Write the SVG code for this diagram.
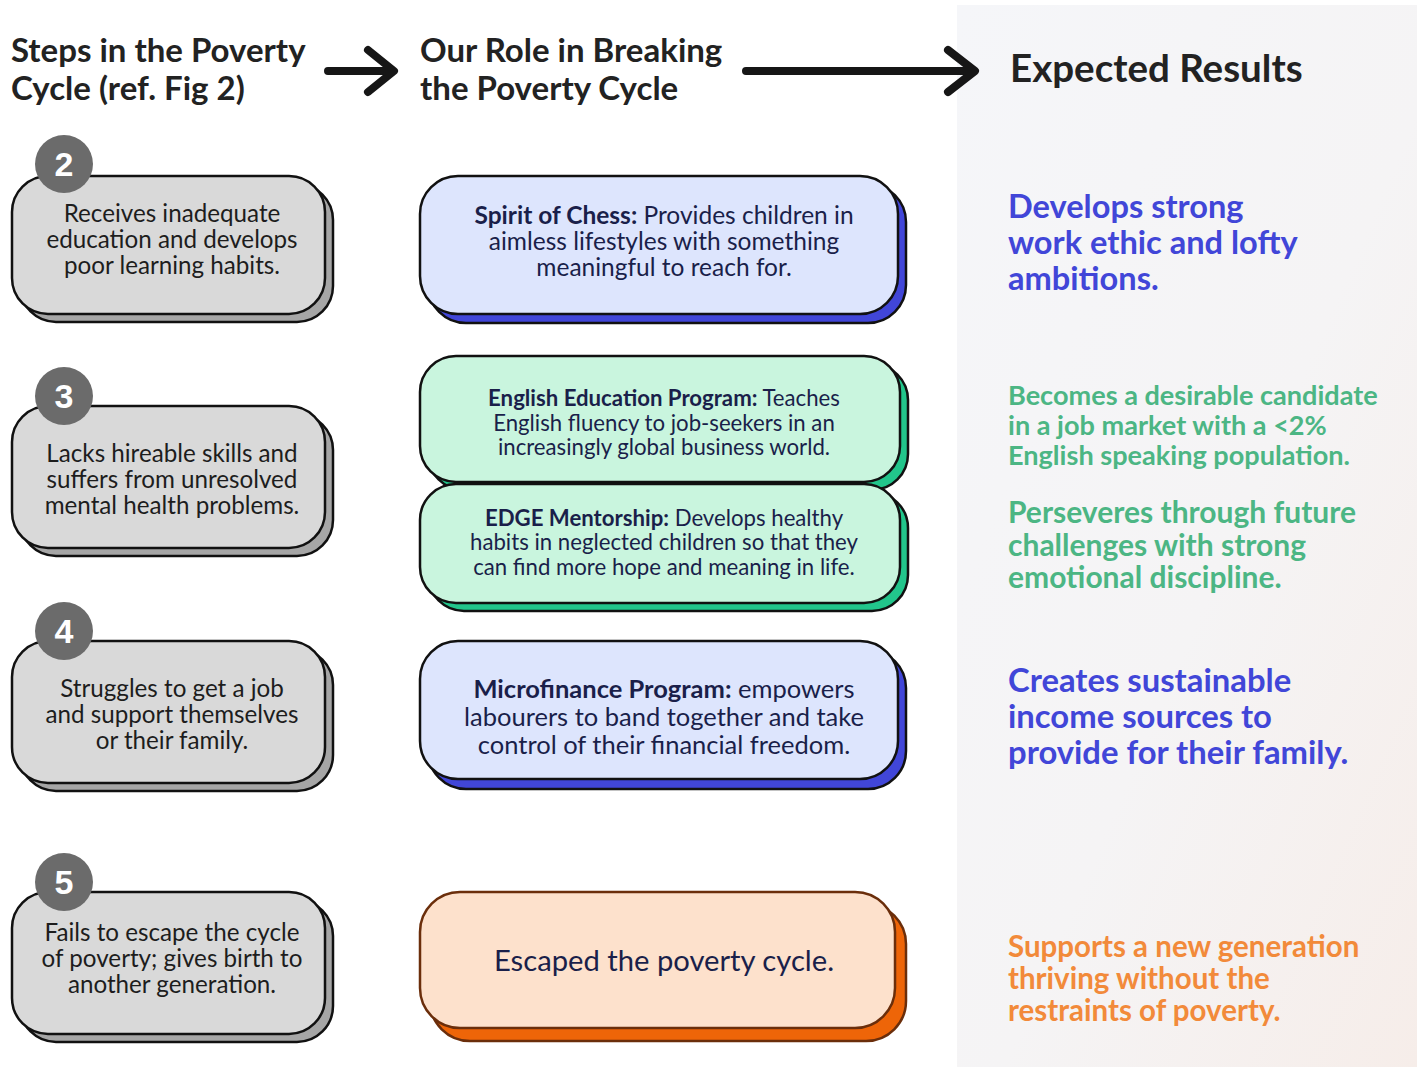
<svg xmlns="http://www.w3.org/2000/svg" width="1421" height="1067" viewBox="0 0 1421 1067">
  <defs>
    <linearGradient id="panelBg" x1="0" y1="0" x2="1" y2="1">
      <stop offset="0" stop-color="#f5f6f9"/>
      <stop offset="0.55" stop-color="#f5f4f5"/>
      <stop offset="1" stop-color="#f6ede9"/>
    </linearGradient>
    <style>
      text { font-family: Lato, "Open Sans", "Liberation Sans", sans-serif; }
      .head { font-size: 33px; font-weight: 700; fill: #222222; }
      .step-shadow { fill: #a6a6a6; stroke: #111111; stroke-width: 2.5; }
      .step-box { fill: #d9d9d9; stroke: #111111; stroke-width: 2.5; }
      .badge { fill: #6b6b6b; }
      .badge-num { font-size: 34px; font-weight: 700; fill: #ffffff; text-anchor: middle; font-family: "Liberation Sans", Arial, sans-serif; }
      .step-txt { font-size: 24.2px; fill: #1d1d1d; text-anchor: middle; }
      .role-txt { fill: #1a1f4a; text-anchor: middle; }
      .role-txt tspan.b { font-weight: 700; }
      .blue-shadow { fill: #4146d8; stroke: #111111; stroke-width: 2.5; }
      .blue-box { fill: #dde5fd; stroke: #111111; stroke-width: 2.5; }
      .green-shadow { fill: #22c58b; stroke: #111111; stroke-width: 2.5; }
      .green-box { fill: #c9f5de; stroke: #111111; stroke-width: 2.5; }
      .orange-shadow { fill: #ee6508; stroke: #6b2e0b; stroke-width: 2.5; }
      .orange-box { fill: #fde1cc; stroke: #6b2e0b; stroke-width: 2.5; }
      .res { font-weight: 700; }
      .arrow { fill: none; stroke: #161616; stroke-width: 8; stroke-linecap: round; stroke-linejoin: round; }
    </style>
  </defs>

  <!-- page -->
  <rect width="1421" height="1067" fill="#ffffff"/>
  <rect x="957" y="5" width="460" height="1062" fill="url(#panelBg)"/>

  <!-- column headings -->
  <g id="heading-steps">
    <text class="head" x="11" y="62">Steps in the Poverty</text>
    <text class="head" x="11" y="100">Cycle (ref. Fig 2)</text>
  </g>
  <g id="heading-role">
    <text class="head" x="420" y="62">Our Role in Breaking</text>
    <text class="head" x="420" y="100">the Poverty Cycle</text>
  </g>
  <g id="heading-results">
    <text class="head" x="1010" y="82" style="font-size:38.5px">Expected Results</text>
  </g>

  <!-- heading arrows -->
  <g id="connectors">
    <path class="arrow" d="M328 71 H393 M368 50 L394 71 L368 92"/>
    <path class="arrow" d="M746 71 H974 M948 50 L975 71 L948 92"/>
  </g>

  <!-- step 2 -->
  <g id="step-2">
    <rect class="step-shadow" x="20" y="184" width="313" height="138" rx="36"/>
    <rect class="step-box" x="12" y="176" width="313" height="138" rx="36"/>
    <circle class="badge" cx="64" cy="164" r="29"/>
    <text class="badge-num" x="64" y="176">2</text>
    <text class="step-txt" x="172" y="222">Receives inadequate</text>
    <text class="step-txt" x="172" y="248">education and develops</text>
    <text class="step-txt" x="172" y="274">poor learning habits.</text>
  </g>

  <!-- step 3 -->
  <g id="step-3">
    <rect class="step-shadow" x="20" y="414" width="313" height="142" rx="36"/>
    <rect class="step-box" x="12" y="406" width="313" height="142" rx="36"/>
    <circle class="badge" cx="64" cy="396" r="29"/>
    <text class="badge-num" x="64" y="408">3</text>
    <text class="step-txt" x="172" y="462">Lacks hireable skills and</text>
    <text class="step-txt" x="172" y="488">suffers from unresolved</text>
    <text class="step-txt" x="172" y="514">mental health problems.</text>
  </g>

  <!-- step 4 -->
  <g id="step-4">
    <rect class="step-shadow" x="20" y="649" width="313" height="142" rx="36"/>
    <rect class="step-box" x="12" y="641" width="313" height="142" rx="36"/>
    <circle class="badge" cx="64" cy="631" r="29"/>
    <text class="badge-num" x="64" y="643">4</text>
    <text class="step-txt" x="172" y="697">Struggles to get a job</text>
    <text class="step-txt" x="172" y="723">and support themselves</text>
    <text class="step-txt" x="172" y="749">or their family.</text>
  </g>

  <!-- step 5 -->
  <g id="step-5">
    <rect class="step-shadow" x="20" y="900" width="313" height="142" rx="36"/>
    <rect class="step-box" x="12" y="892" width="313" height="142" rx="36"/>
    <circle class="badge" cx="64" cy="882" r="29"/>
    <text class="badge-num" x="64" y="894">5</text>
    <text class="step-txt" x="172" y="941">Fails to escape the cycle</text>
    <text class="step-txt" x="172" y="967">of poverty; gives birth to</text>
    <text class="step-txt" x="172" y="993">another generation.</text>
  </g>

  <!-- programs -->
  <g id="spirit-of-chess">
    <rect class="blue-shadow" x="428" y="184" width="478" height="139" rx="38"/>
    <rect class="blue-box" x="420" y="176" width="478" height="138" rx="38"/>
    <text class="role-txt" x="664" y="224" font-size="24.5"><tspan class="b">Spirit of Chess:</tspan> Provides children in</text>
    <text class="role-txt" x="664" y="250" font-size="24.5">aimless lifestyles with something</text>
    <text class="role-txt" x="664" y="276" font-size="24.5">meaningful to reach for.</text>
  </g>

  <g id="english-education">
    <rect class="green-shadow" x="428" y="364" width="480" height="126" rx="36"/>
    <rect class="green-box" x="420" y="356" width="480" height="126" rx="36"/>
    <text class="role-txt" x="664" y="406" font-size="22.2"><tspan class="b">English Education Program:</tspan> Teaches</text>
    <text class="role-txt" x="664" y="431" font-size="22.2">English fluency to job-seekers in an</text>
    <text class="role-txt" x="664" y="455" font-size="22.2">increasingly global business world.</text>
  </g>

  <g id="edge-mentorship">
    <rect class="green-shadow" x="428" y="492" width="480" height="119" rx="36"/>
    <rect class="green-box" x="420" y="484" width="480" height="119" rx="36"/>
    <text class="role-txt" x="664" y="526" font-size="22.2"><tspan class="b">EDGE Mentorship:</tspan> Develops healthy</text>
    <text class="role-txt" x="664" y="550" font-size="22.2">habits in neglected children so that they</text>
    <text class="role-txt" x="664" y="575" font-size="22.2">can find more hope and meaning in life.</text>
  </g>

  <g id="microfinance">
    <rect class="blue-shadow" x="428" y="650" width="478" height="139" rx="38"/>
    <rect class="blue-box" x="420" y="641" width="478" height="138" rx="38"/>
    <text class="role-txt" x="664" y="698" font-size="25.5"><tspan class="b">Microfinance Program:</tspan> empowers</text>
    <text class="role-txt" x="664" y="726" font-size="25.5">labourers to band together and take</text>
    <text class="role-txt" x="664" y="754" font-size="25.5">control of their financial freedom.</text>
  </g>

  <g id="escaped">
    <rect class="orange-shadow" x="430" y="904" width="476" height="137" rx="40"/>
    <rect class="orange-box" x="420" y="892" width="475" height="136" rx="40"/>
    <text class="role-txt" x="664" y="971" font-size="29.2">Escaped the poverty cycle.</text>
  </g>

  <!-- expected results -->
  <g id="result-ambition" fill="#4146d8" font-size="32.6">
    <text class="res" x="1008" y="218">Develops strong</text>
    <text class="res" x="1008" y="254">work ethic and lofty</text>
    <text class="res" x="1008" y="290">ambitions.</text>
  </g>
  <g id="result-candidate" fill="#4cb684" font-size="27.1">
    <text class="res" x="1008" y="405">Becomes a desirable candidate</text>
    <text class="res" x="1008" y="435">in a job market with a &lt;2%</text>
    <text class="res" x="1008" y="465">English speaking population.</text>
  </g>
  <g id="result-perseveres" fill="#4cb684" font-size="30">
    <text class="res" x="1008" y="523">Perseveres through future</text>
    <text class="res" x="1008" y="556">challenges with strong</text>
    <text class="res" x="1008" y="588">emotional discipline.</text>
  </g>
  <g id="result-income" fill="#4146d8" font-size="32.8">
    <text class="res" x="1008" y="692">Creates sustainable</text>
    <text class="res" x="1008" y="728">income sources to</text>
    <text class="res" x="1008" y="764">provide for their family.</text>
  </g>
  <g id="result-generation" fill="#f28a3a" font-size="29.5">
    <text class="res" x="1008" y="957">Supports a new generation</text>
    <text class="res" x="1008" y="989">thriving without the</text>
    <text class="res" x="1008" y="1021">restraints of poverty.</text>
  </g>
</svg>
